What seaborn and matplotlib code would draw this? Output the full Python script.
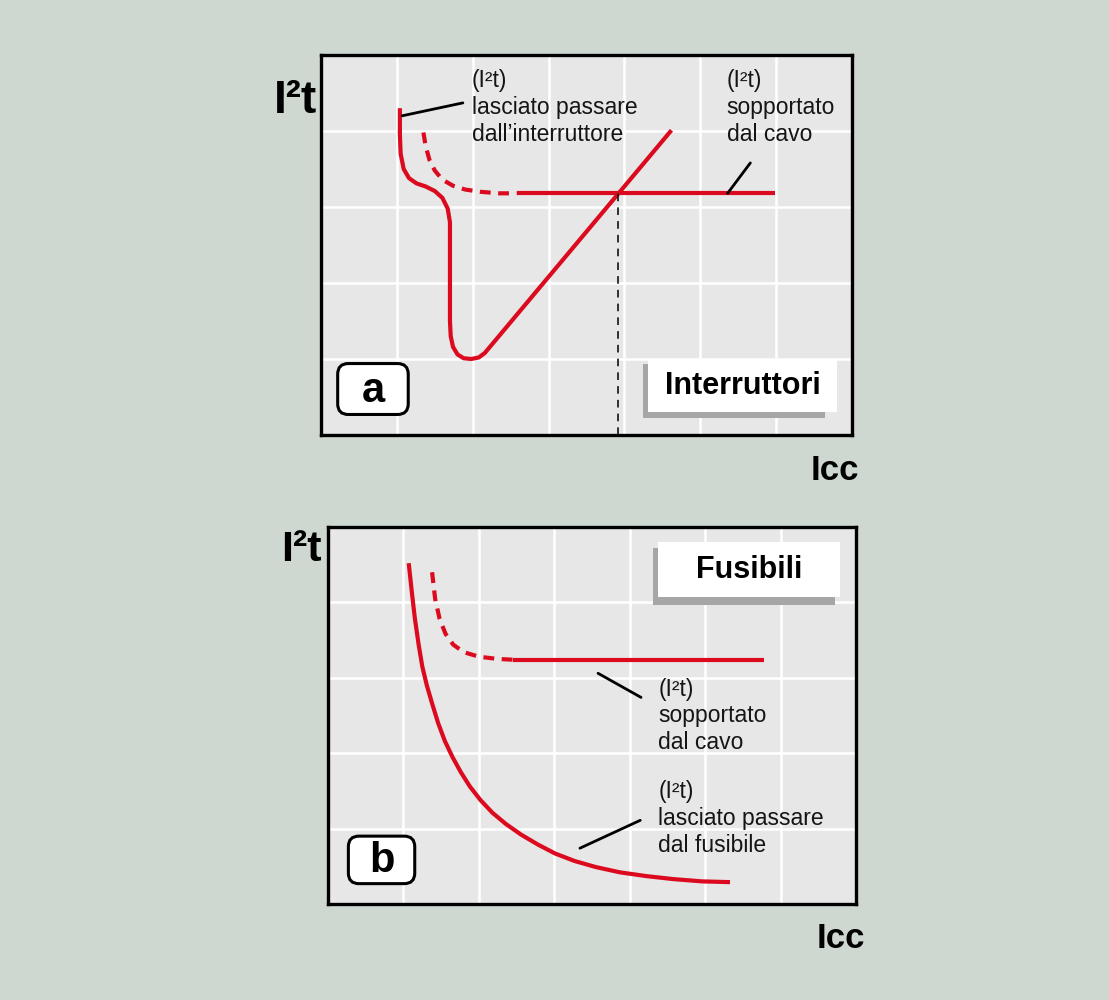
import matplotlib
matplotlib.use("Agg")
import matplotlib.pyplot as plt
from matplotlib.patches import FancyBboxPatch, Rectangle
import numpy as np
import pandas as pd
import seaborn as sns

# ---- panel a: circuit breaker ----
a_let_x = [1.04, 1.04, 1.05, 1.09, 1.16, 1.26, 1.38, 1.50, 1.60, 1.67, 1.70, 1.70, 1.70, 1.71, 1.74, 1.80, 1.88, 1.98, 2.08, 2.16, 4.62]
a_let_y = [4.30, 3.95, 3.70, 3.50, 3.38, 3.31, 3.27, 3.21, 3.12, 2.98, 2.80, 2.20, 1.50, 1.30, 1.16, 1.06, 1.01, 1.00, 1.02, 1.08, 4.01]

a_cable_dash_x = [1.35, 1.38, 1.43, 1.50, 1.60, 1.74, 1.90, 2.10, 2.35, 2.58]
a_cable_dash_y = [3.98, 3.80, 3.62, 3.48, 3.36, 3.28, 3.23, 3.20, 3.18, 3.18]
a_cable_x = [2.58, 5.98]
a_cable_y = [3.18, 3.18]
a_cross_x = 3.92

# ---- panel b: fuse ----
b_let_x = [1.07, 1.11, 1.15, 1.20, 1.25, 1.31, 1.38, 1.46, 1.55, 1.65, 1.76, 1.88, 2.02, 2.18, 2.36, 2.56, 2.78, 3.01, 3.27, 3.55, 3.87, 4.22, 4.58, 4.96, 5.33]
b_let_y = [4.52, 4.15, 3.80, 3.45, 3.15, 2.90, 2.66, 2.40, 2.16, 1.95, 1.75, 1.56, 1.38, 1.21, 1.06, 0.92, 0.79, 0.67, 0.57, 0.49, 0.42, 0.37, 0.33, 0.30, 0.29]

b_cable_dash_x = [1.38, 1.42, 1.48, 1.56, 1.66, 1.80, 2.00, 2.25, 2.45]
b_cable_dash_y = [4.40, 4.05, 3.78, 3.58, 3.44, 3.34, 3.28, 3.25, 3.24]
b_cable_x = [2.45, 5.78]
b_cable_y = [3.24, 3.24]

x_ticks = [1, 2, 3, 4, 5, 6]
y_ticks = [1, 2, 3, 4]

RED = "#dc0a1e"
BG = "#cfd8d0"
FACE = "#e7e7e7"
INK = "#151515"

sns.set_style("white")
plt.rcParams["font.family"] = ["Liberation Sans", "DejaVu Sans"]
plt.rcParams["text.color"] = INK

fig = plt.figure(figsize=(11.09, 10.0), dpi=100)
fig.patch.set_facecolor(BG)

ax_a = fig.add_axes([321 / 1109, 1 - 435 / 1000, 531 / 1109, 380 / 1000])
ax_b = fig.add_axes([328 / 1109, 1 - 904 / 1000, 528 / 1109, 377 / 1000])


def style_axes(ax):
    ax.set_facecolor(FACE)
    ax.set_xlim(0, 7)
    ax.set_ylim(0, 5)
    ax.set_xticks(x_ticks)
    ax.set_yticks(y_ticks)
    ax.tick_params(length=0, labelbottom=False, labelleft=False)
    ax.grid(True, color="white", lw=1.8)
    ax.set_axisbelow(True)
    for s in ax.spines.values():
        s.set_visible(True)
        s.set_color("black")
        s.set_linewidth(2.4)
    ax.set_xlabel("")
    ax.set_ylabel("")


def red_line(ax, xs, ys, dashed=False):
    df = pd.DataFrame({"x": xs, "y": ys})
    kw = dict(color=RED, lw=3.0, sort=False, estimator=None, ax=ax, legend=False)
    if dashed:
        kw.update(linestyle=(0, (2.6, 1.8)), dash_capstyle="butt")
    else:
        kw.update(solid_capstyle="butt", solid_joinstyle="round")
    sns.lineplot(data=df, x="x", y="y", **kw)


def label_box(ax, x0, y0, x1, y1, letter):
    ax.add_patch(FancyBboxPatch((x0, y0), x1 - x0, y1 - y0,
                                boxstyle="round,pad=0,rounding_size=0.14",
                                fc="white", ec="black", lw=2.2, zorder=5))
    ax.text((x0 + x1) / 2, (y0 + y1) / 2 - 0.02, letter, ha="center", va="center",
            fontsize=30, fontweight="bold", color="black", zorder=6)


def title_box(ax, grey, white, text):
    gx0, gy0, gx1, gy1 = grey
    wx0, wy0, wx1, wy1 = white
    ax.add_patch(Rectangle((gx0, gy0), gx1 - gx0, gy1 - gy0, fc="#a6a6a6", ec="none", zorder=5))
    ax.add_patch(Rectangle((wx0, wy0), wx1 - wx0, wy1 - wy0, fc="white", ec="none", zorder=6))
    ax.text((wx0 + wx1) / 2, (wy0 + wy1) / 2, text, ha="center", va="center",
            fontsize=22, fontweight="heavy", color="black", zorder=7)


NOTE = dict(ha="left", va="top", fontsize=16.5, linespacing=1.2)
I2T = "(I²t)"

# panel a
style_axes(ax_a)
red_line(ax_a, a_let_x, a_let_y)
red_line(ax_a, a_cable_dash_x, a_cable_dash_y, dashed=True)
red_line(ax_a, a_cable_x, a_cable_y)
ax_a.plot([a_cross_x, a_cross_x], [0, a_cable_y[0]], color="black", lw=1.1,
          linestyle=(0, (5, 4)), zorder=3)
ax_a.plot([1.07, 1.87], [4.20, 4.37], color="black", lw=2.0)
ax_a.plot([5.36, 5.66], [3.18, 3.58], color="black", lw=2.0)
ax_a.text(1.99, 4.81, I2T + "\nlasciato passare\ndall\u2019interruttore", **NOTE)
ax_a.text(5.35, 4.81, I2T + "\nsopportato\ndal cavo", **NOTE)
label_box(ax_a, 0.22, 0.27, 1.15, 0.94, "a")
title_box(ax_a, (4.24, 0.22, 6.64, 0.94), (4.31, 0.30, 6.80, 0.99), "Interruttori")

# panel b
style_axes(ax_b)
red_line(ax_b, b_let_x, b_let_y)
red_line(ax_b, b_cable_dash_x, b_cable_dash_y, dashed=True)
red_line(ax_b, b_cable_x, b_cable_y)
ax_b.plot([3.58, 4.15], [3.06, 2.74], color="black", lw=2.0)
ax_b.plot([3.34, 4.14], [0.74, 1.11], color="black", lw=2.0)
ax_b.text(4.38, 3.00, I2T + "\nsopportato\ndal cavo", **NOTE)
ax_b.text(4.38, 1.64, I2T + "\nlasciato passare\ndal fusibile", **NOTE)
label_box(ax_b, 0.27, 0.27, 1.15, 0.90, "b")
title_box(ax_b, (4.31, 3.97, 6.72, 4.72), (4.38, 4.07, 6.79, 4.80), "Fusibili")

# axis names outside the frames
AXNAME = dict(fontweight="bold", color="black", ha="left", va="baseline")
fig.text(274 / 1109, 1 - 113 / 1000, "I²t", fontsize=33, **AXNAME)
fig.text(811 / 1109, 1 - 480 / 1000, "Icc", fontsize=25, **AXNAME)
fig.text(281 / 1109, 1 - 561 / 1000, "I²t", fontsize=31, **AXNAME)
fig.text(817 / 1109, 1 - 948 / 1000, "Icc", fontsize=25, **AXNAME)

fig.savefig("out.png", dpi=100, facecolor=BG)
